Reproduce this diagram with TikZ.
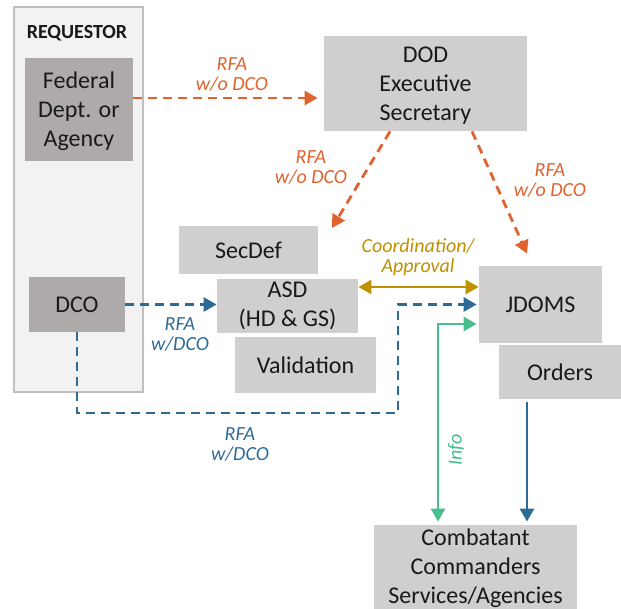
\documentclass[tikz,border=0pt]{standalone}
\usepackage{fontspec}
\setmainfont{Carlito}
\usetikzlibrary{arrows.meta,positioning,calc}

\definecolor{boxgray}{HTML}{D0CECE}
\definecolor{reqgray}{HTML}{AEAAAA}
\definecolor{reqfill}{HTML}{F2F2F2}
\definecolor{reqline}{HTML}{BFBFBF}
\definecolor{rfaorange}{RGB}{224,98,45}
\definecolor{dcoblue}{RGB}{46,106,150}
\definecolor{coordgold}{RGB}{191,144,0}
\definecolor{infogreen}{RGB}{72,190,140}

\tikzset{
  box/.style={fill=boxgray, inner sep=0pt, align=center, text=black!90,
    font=\fontsize{12}{14.5}\selectfont},
  darkbox/.style={box, fill=reqgray},
  lbl/.style={inner sep=0pt, align=center, font=\fontsize{10}{10}\selectfont\itshape},
  tip/.style={-{Triangle[length=6.5pt,width=7pt]}},
  bothtips/.style={{Triangle[length=6.5pt,width=7pt]}-{Triangle[length=6.5pt,width=7pt]}},
  orangearr/.style={tip, draw=rfaorange, line width=1.4pt, dash pattern=on 4.5pt off 3pt},
  bluearr/.style={tip, draw=dcoblue, line width=1.4pt, dash pattern=on 4.5pt off 3pt},
}

\begin{document}
\begin{tikzpicture}[x=0.5pt,y=-0.5pt]
    \useasboundingbox (0,0) rectangle (621,609);

    % the requestor column
    \node[draw=reqline, fill=reqfill, line width=0.75pt, minimum width=64.5pt, minimum height=192.5pt] (req) at (78.5,199.5) {};
    \node[inner sep=0pt, font=\fontsize{10}{12}\selectfont\bfseries, text=black!90] (reqtitle) at (77,33) {REQUESTOR};
    \node[darkbox, minimum width=54pt, minimum height=51.5pt, text depth=-4pt] (fed) at (79,109.5) {Federal\\Dept. or\\Agency};
    \node[darkbox, minimum width=48pt, minimum height=27.5pt] (dco) at (77,304.5) {DCO};

    % DOD side
    \node[box, minimum width=101.5pt, minimum height=47.5pt, text depth=-3pt] (dod) at (425.5,83.5) {DOD\\Executive\\Secretary};
    \node[box, minimum width=69.5pt, minimum height=24pt] (secdef) at (248.5,250) {SecDef};
    \node[box, minimum width=70.5pt, minimum height=27pt] (asd) at (287.5,306) {ASD\\(HD \& GS)};
    \node[box, minimum width=70.5pt, minimum height=28pt] (valid) at (305.5,365) {Validation};
    \node[box, minimum width=61.5pt, minimum height=38.5pt] (jdoms) at (540.5,304.5) {JDOMS};
    \node[box, minimum width=61pt, minimum height=27pt] (orders) at (560,372) {Orders};
    \node[box, minimum width=101.5pt, minimum height=43pt] (cc) at (475.5,568) {Combatant\\Commanders\\Services/Agencies};

    % RFA without DCO
    \coordinate (secdeftip) at (332,228);
    \draw[orangearr] ([yshift=5.75pt]fed.east) -- ([xshift=-3pt,yshift=5.75pt]fed.east -| dod.west);
    \draw[orangearr] ([xshift=-17.75pt]dod.south) -- (secdeftip);
    \draw[orangearr] ([xshift=23.25pt]dod.south) -- ([xshift=-6.75pt,yshift=6pt]jdoms.north);
    \node[lbl, text=rfaorange] (rfa1) at (232,75) {RFA\\w/o DCO};
    \node[lbl, text=rfaorange] (rfa2) at (311,168) {RFA\\w/o DCO};
    \node[lbl, text=rfaorange] (rfa3) at (550,181) {RFA\\w/o DCO};

    % coordination
    \draw[bothtips, draw=coordgold, line width=1.4pt]
        ([yshift=9.5pt]asd.east) -- ([yshift=9.5pt]asd.east -| jdoms.west);
    \node[lbl, text=coordgold] (coord) at (418,257) {Coordination/\\Approval};

    % RFA with DCO
    \coordinate (bend) at (398,413);
    \draw[bluearr] (dco.east) -- (dco.east -| asd.west);
    \draw[bluearr] (dco.south) |- (bend) -- (bend |- jdoms.west) -- ([xshift=-1pt]jdoms.west);
    \node[lbl, text=dcoblue] (rfa4) at (180,335) {RFA\\w/DCO};
    \node[lbl, text=dcoblue] (rfa5) at (240,445) {RFA\\w/DCO};

    % info and orders
    \draw[bothtips, draw=infogreen, line width=1.4pt]
        ([xshift=-1pt,yshift=-9.75pt]jdoms.west) -| ([xshift=-18.75pt,yshift=1.5pt]cc.north);
    \node[lbl, text=infogreen, rotate=90] (info) at (456,450) {Info};
    \draw[tip, draw=dcoblue, line width=1.4pt] ([xshift=-16.5pt,yshift=-1.5pt]orders.south) -- ([xshift=-16.5pt,yshift=1.5pt]orders.south |- cc.north);
\end{tikzpicture}
\end{document}
